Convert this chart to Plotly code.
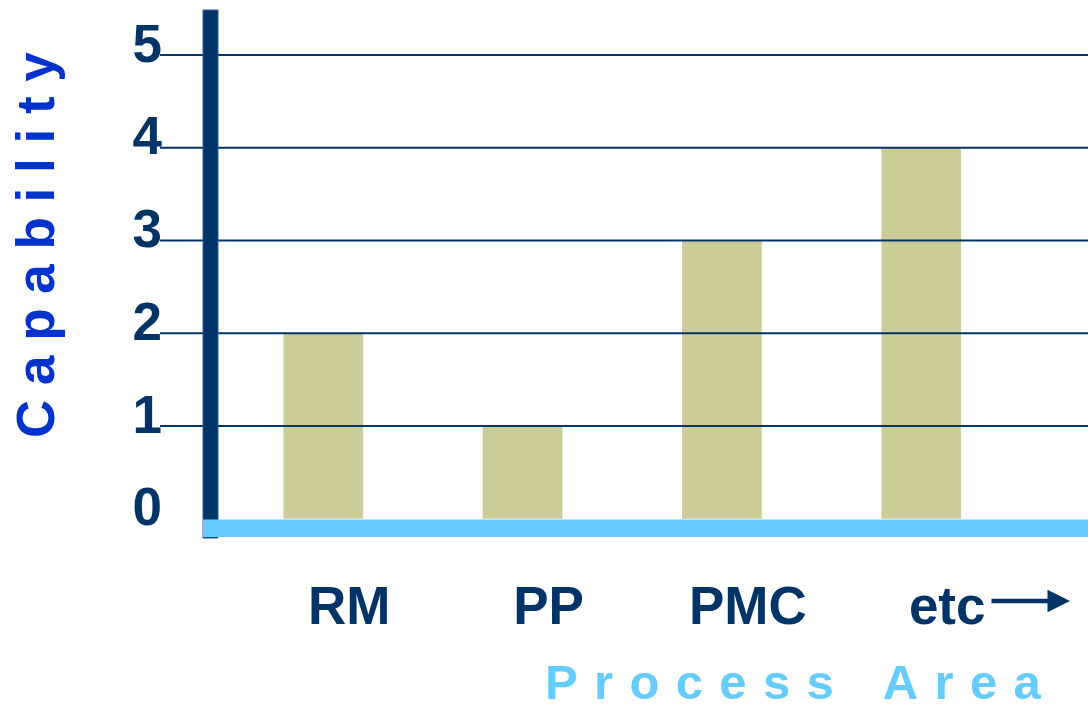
import plotly.graph_objects as go

# ---- data ----
categories = ["RM", "PP", "PMC", "etc"]
capability = [2, 1, 3, 4]
y_ticks = [0, 1, 2, 3, 4, 5]
y_title = "Capability"
x_title = "Process Area"

NAVY = "#003366"
BAR = "#CCCC99"
LIGHT = "#66CCFF"
BLUE = "#0033CC"
FONT = "Liberation Sans, Arial, sans-serif"

W, H = 1088, 708
ML, MR, MT, MB = 203, 0, 10, 170
PW, PH = W - ML - MR, H - MT - MB


def px_x(p):
    return (p - ML) / PW


def px_y(p):
    return (H - MB - p) / PH


fig = go.Figure(
    go.Bar(
        x=categories,
        y=capability,
        width=0.4,
        marker=dict(color=BAR, line=dict(width=0)),
        hoverinfo="skip",
    )
)

shapes = []
# gridlines drawn over the bars
for v in y_ticks[1:]:
    shapes.append(dict(type="line", xref="paper", yref="y", x0=px_x(160), x1=1,
                       y0=v, y1=v, line=dict(color=NAVY, width=2), layer="above"))
# thick vertical axis
shapes.append(dict(type="rect", xref="paper", yref="paper", x0=0, x1=px_x(218),
                   y0=0, y1=1, fillcolor=NAVY, line=dict(color="#2f5f8f", width=1),
                   layer="above"))
# light blue baseline (top edge at the value 0)
shapes.append(dict(type="rect", xref="paper", yref="paper", x0=0, x1=1,
                   y0=px_y(537), y1=px_y(519.5), fillcolor=LIGHT,
                   line=dict(width=0), layer="above"))

tickfont = dict(family=FONT, size=53, color=NAVY, weight="bold")

annotations = [
    dict(text="\u00a0".join(list(y_title)), xref="paper", yref="paper",
         x=px_x(35), y=px_y(245), textangle=-90, showarrow=False,
         font=dict(family=FONT, size=53, color=BLUE, weight="bold"),
         xanchor="center", yanchor="middle"),
    dict(text="\u2004".join(list(x_title.replace(" ", "\u2004"))), xref="paper", yref="paper",
         x=px_x(793), y=px_y(682), showarrow=False,
         font=dict(family=FONT, size=49, color=LIGHT, weight="bold"),
         xanchor="center", yanchor="middle"),
    dict(text="", xref="paper", yref="paper", x=px_x(1070), y=px_y(601),
         ax=-80, ay=0, showarrow=True, arrowhead=2, arrowwidth=4.5,
         arrowsize=1, arrowcolor=NAVY),
]

fig.update_layout(
    width=W, height=H,
    margin=dict(l=ML, r=MR, t=MT, b=MB, pad=0),
    paper_bgcolor="white", plot_bgcolor="white",
    showlegend=False,
    shapes=shapes,
    annotations=annotations,
    xaxis=dict(type="category", range=[-0.6036, 3.837], showgrid=False,
               zeroline=False, showline=False, ticks="", tickfont=tickfont,
               ticklabelshift=26, ticklabelstandoff=32, fixedrange=True),
    yaxis=dict(range=[-0.2075, 5.485], tickvals=y_ticks, showgrid=False,
               zeroline=False, showline=False, ticks="", tickfont=tickfont,
               ticklabelstandoff=40, ticklabelshift=-12, fixedrange=True),
)

fig.write_html("out.html", config={"displayModeBar": False})
